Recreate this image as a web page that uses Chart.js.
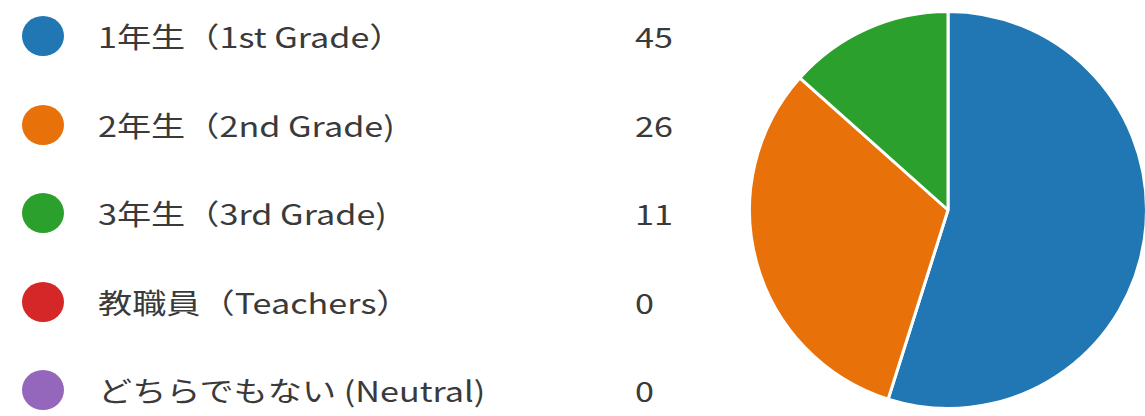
<!DOCTYPE html>
<html>
<head>
<meta charset="utf-8">
<script src="https://cdn.jsdelivr.net/npm/chart.js@4/dist/chart.umd.min.js"></script>
<style>
  html, body { margin: 0; padding: 0; background: #fff; overflow: hidden; }
  body { width: 1145px; height: 416px; position: relative; font-family: "Noto Sans CJK JP", "Open Sans", sans-serif; color: #3a3a3a; }
  #legend { position: absolute; left: 0; top: 0; }
  .row { position: absolute; left: 0; height: 44px; width: 700px; }
  .dot { position: absolute; left: 22px; top: 2px; width: 42px; height: 40px; border-radius: 50%; }
  .lab, .val { position: absolute; top: 0; line-height: 44px; font-size: 28px; white-space: nowrap;
               transform: scaleX(1.22); transform-origin: 0 50%; }
  .lab { left: 98px; }
  .val { left: 635px; }
  #wrap { position: absolute; left: 748px; top: 10px; width: 400px; height: 400px; }
</style>
</head>
<body>
<div id="legend"></div>
<div id="wrap"><canvas id="c" width="400" height="400"></canvas></div>
<script>
// Survey respondents by group
const categories = ["1年生（1st Grade）", "2年生（2nd Grade)", "3年生（3rd Grade)", "教職員（Teachers）", "どちらでもない (Neutral)"];
const counts = [45, 26, 11, 0, 0];
const colors = ["#2077b4", "#e8710a", "#2ca02c", "#d62728", "#9467bd"];

// Legend rows: colored dot, label, count
const rowTops = [14, 103, 191, 280, 368];
const legend = document.getElementById("legend");
categories.forEach((name, i) => {
  const row = document.createElement("div");
  row.className = "row";
  row.style.top = rowTops[i] + "px";
  const dot = document.createElement("div");
  dot.className = "dot";
  dot.style.background = colors[i];
  const lab = document.createElement("div");
  lab.className = "lab";
  lab.textContent = name;
  const val = document.createElement("div");
  val.className = "val";
  val.textContent = String(counts[i]);
  row.append(dot, lab, val);
  legend.appendChild(row);
});

new Chart(document.getElementById("c"), {
  type: "pie",
  data: {
    labels: categories,
    datasets: [{
      data: counts,
      backgroundColor: colors,
      borderColor: "#ffffff",
      borderWidth: 3
    }]
  },
  options: {
    responsive: false,
    animation: false,
    layout: { padding: 0 },
    plugins: { legend: { display: false }, tooltip: { enabled: false } }
  }
});
</script>
</body>
</html>
